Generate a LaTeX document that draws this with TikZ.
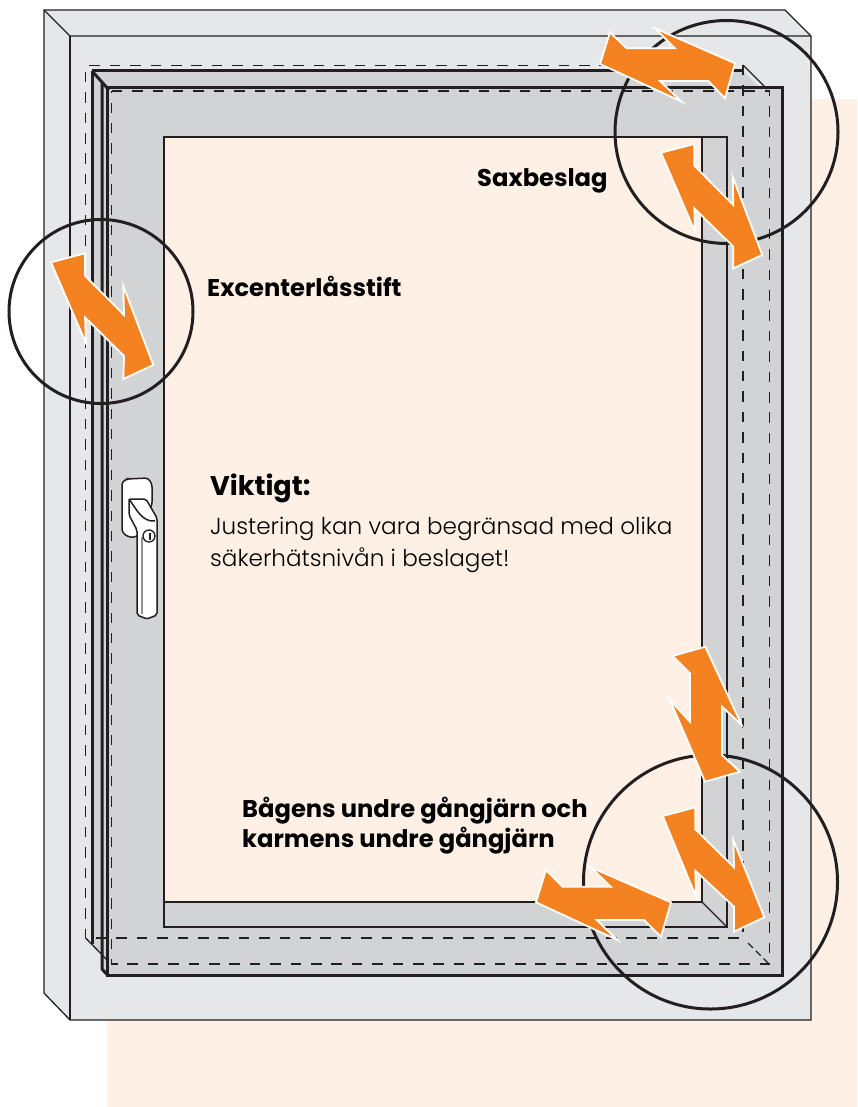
\documentclass[tikz,border=0pt]{standalone}
\usepackage{fontspec}
\setmainfont{Poppins}
\newfontfamily\lightface{Poppins Light}
\usetikzlibrary{positioning}
\definecolor{peach}{HTML}{FEF0E5}
\definecolor{framegrey}{HTML}{E6E7E9}
\definecolor{sashgrey}{HTML}{D1D3D4}
\definecolor{pil}{HTML}{F58220}
\definecolor{ink}{HTML}{231F20}

\begin{document}
\begin{tikzpicture}[
    x=1pt, y=-1pt,
    thinline/.style={draw=ink, line width=1.3pt},
    thickline/.style={draw=ink, line width=3pt},
    hidden/.style={draw=ink, line width=1.2pt, dash pattern=on 10.5pt off 9.9pt},
    zoomring/.style={draw=ink, line width=3pt},
    pilshape/.style={fill=pil, draw=white, line width=1.8pt, miter limit=10},
    callout/.style={anchor=base west, inner sep=0pt, font=\fontsize{24.2}{28}\selectfont\bfseries},
    remark/.style={anchor=base west, inner sep=0pt, font=\lightface\fontsize{23.1}{28}\selectfont}
  ]
  \useasboundingbox (0,0) rectangle (857,1107);

  % background
  \fill[peach] (107,99) rectangle (857,1107);

  % frame
  \filldraw[fill=framegrey, thinline] (44,10) -- (785,10) -- (811,36) -- (811,1020)
    -- (70,1020) -- (44,993) -- cycle;
  \draw[thinline] (44,10) -- (70,36) -- (811,36);
  \draw[thinline] (70,36) -- (70,1020);

  % sash
  \fill[sashgrey] (92,71) -- (743,71) -- (760,88) -- (782,88) -- (782,975) -- (107.5,975)
    -- (102,969) -- (102,954) -- (92,944) -- cycle;
  \fill[peach] (164,137) rectangle (702,902);
  \draw[thickline] (92,71) -- (743,71);
  \draw[thickline] (92,71) -- (92,944);
  \draw[thickline] (102,82) -- (102,969) -- (107.5,975);
  \draw[thickline] (92,71) -- (109,90);
  \draw[thickline] (107.5,88) -- (782,88) -- (782,975) -- (107.5,975) -- cycle;
  \draw[thickline, line width=2.5pt] (164,137) -- (727,137) -- (727,927) -- (164,927) -- cycle;
  \draw[thinline] (702,137) -- (702,902) -- (164,902);
  \draw[thinline] (702,902) -- (727,927);

  % hidden edges
  \draw[hidden] (96,938) -- (743,938) -- (743,65.7) -- (85.7,65.7) -- (85.7,938);
  \draw[hidden] (111.7,91) -- (769.5,91) -- (769.5,964) -- (111.7,964) -- cycle;
  \draw[thinline] (743,65) -- (767,89);
  \draw[thinline] (85.7,938) -- (107,960);
  \draw[thinline, dash pattern=on 7pt off 4pt] (748,943) -- (769,964);

  % handle
  \filldraw[fill=white, draw=ink, line width=1.5pt, rounded corners=3pt]
    (122,482) -- (127,479) -- (148,478) -- (152,484) -- (152,505) -- (137,537) -- (128,537) -- (122,532) -- cycle;
  \filldraw[fill=white, draw=ink, line width=1.5pt, rounded corners=2pt]
    (129,499) -- (146,499) -- (157,518) -- (157,615) -- (147,619) -- (137,615) -- (137,530) -- (129,515) -- cycle;
  \draw[draw=ink, line width=1.5pt] (129,499) .. controls (137,510) and (142,522) .. (155,521);
  \draw[draw=ink!50, line width=1.2pt] (142,537) -- (142,614);
  \filldraw[fill=white, draw=ink, line width=1.3pt] (149,536) circle (6);
  \draw[draw=ink, line width=2pt] (150,533) -- (150,540);

  % zoom rings
  \draw[zoomring] (726.5,132) circle (111.5);
  \draw[zoomring] (101,311.5) circle (92);
  \draw[zoomring] (710.5,882) circle (127);

  % arrows
  \draw[pilshape] (600,64) -- (610,32.3) -- (626.7,48.3) -- (675,48.3) -- (655,28.3) -- (735,63.3)
    -- (725,98.3) -- (708.3,81) -- (660,81) -- (681.7,101.7) -- cycle;
  \draw[pilshape] (661,152.7) -- (694.3,144) -- (694.3,165.7) -- (733.3,205) -- (732.7,176.7)
    -- (762.3,255) -- (733.3,268.3) -- (733.3,246.7) -- (694.3,208.3) -- (695,231.7) -- cycle;
  \draw[pilshape] (51,262.3) -- (85,253.3) -- (85,275.7) -- (124,315) -- (123.3,286)
    -- (153.3,365) -- (123.3,379) -- (124,356) -- (85,317.3) -- (86,343.3) -- cycle;
  \draw[pilshape] (705.3,646.7) -- (741.7,725) -- (722,706.7) -- (722,755) -- (740,771.7)
    -- (705,781.7) -- (670,700) -- (690,721.7) -- (690,673.3) -- (672.7,656) -- cycle;
  \draw[pilshape] (662.7,816) -- (695.3,807.3) -- (695.3,829.3) -- (734,867.3) -- (733.3,840)
    -- (764.3,917.3) -- (734,931.7) -- (734,906.7) -- (695.3,870.7) -- (696,896.7) -- cycle;
  \draw[pilshape] (536,902.3) -- (546,870) -- (562.7,886.7) -- (610.7,886.7) -- (590.7,867.3)
    -- (671,902.3) -- (661,936.7) -- (644,920) -- (596.7,920) -- (617.3,940) -- cycle;

  % labels
  \node[callout] (sax) at (477,187) {Saxbeslag};
  \node[callout] (excenter) at (207,296) {Excenterlåsstift};
  \node[callout] (bage) at (242,817) {Bågens undre gångjärn och};
  \node[callout] (karm) at (242,847) {karmens undre gångjärn};
  \node[callout, font=\fontsize{27}{32}\selectfont\bfseries] (viktigt) at (210,495) {Viktigt:};
  \node[remark] (just) at (210,534) {Justering kan vara begränsad med olika};
  \node[remark] (saker) at (210,566) {säkerhätsnivån i beslaget!};
\end{tikzpicture}
\end{document}
